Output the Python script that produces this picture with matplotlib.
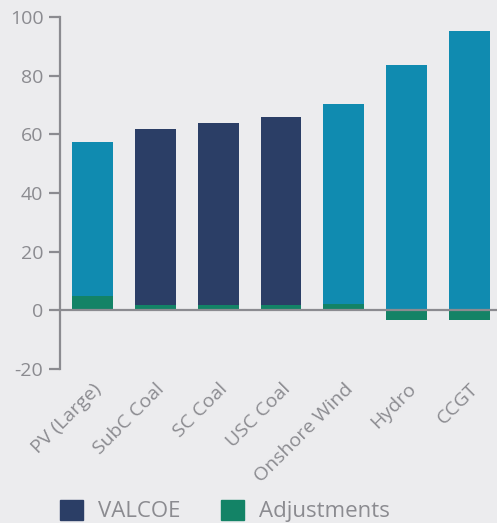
import matplotlib
matplotlib.use("Agg")
import matplotlib.pyplot as plt
import matplotlib.transforms as mtransforms
from matplotlib.patches import Patch
import numpy as np

# Value-adjusted LCOE by technology, USD/MWh
technologies = ["PV (Large)", "SubC Coal", "SC Coal", "USC Coal",
                "Onshore Wind", "Hydro", "CCGT"]
valcoe = [57.5, 61.9, 63.9, 66.0, 70.4, 83.7, 95.2]
adjustments = [4.8, 1.7, 1.7, 1.7, 2.0, -3.3, -3.3]
highlight = [True, False, False, False, True, True, True]
y_ticks = [-20, 0, 20, 40, 60, 80, 100]

BG = "#ececee"
NAVY = "#2b3e66"
CYAN = "#108bb0"
GREEN = "#138366"
GREY = "#8b8b90"

plt.rcParams["font.family"] = ["Open Sans", "DejaVu Sans"]
plt.rcParams["axes.unicode_minus"] = False

fig = plt.figure(figsize=(4.97, 5.23), dpi=100, facecolor=BG)
ax = fig.add_axes([60 / 497, 1 - 369 / 523, 1 - 60 / 497, (369 - 17) / 523])
ax.set_facecolor(BG)

x = np.arange(len(technologies))
adj = np.array(adjustments)
top = np.array(valcoe)
base = np.maximum(adj, 0)
colors = [CYAN if h else NAVY for h in highlight]

ax.bar(x, top - base, bottom=base, width=0.65, color=colors, zorder=2)
ax.bar(x, adj, width=0.65, color=GREEN, zorder=2)
ax.axhline(0, color=GREY, lw=1.6, zorder=3)

ax.set_xlim(-0.52, 6.44)
ax.set_ylim(-20, 100)
ax.set_yticks(y_ticks)
ax.set_xticks(x)
ax.set_xticklabels(technologies, rotation=45, ha="right", va="top",
                   rotation_mode="anchor")
shift = mtransforms.ScaledTranslation(0.06, 0.03, fig.dpi_scale_trans)
for lbl in ax.get_xticklabels():
    lbl.set_transform(lbl.get_transform() + shift)

for s in ["top", "right", "bottom"]:
    ax.spines[s].set_visible(False)
ax.spines["left"].set_color(GREY)
ax.spines["left"].set_linewidth(1.6)
ax.tick_params(axis="y", colors=GREY, labelcolor=GREY, length=8, width=1.6,
               labelsize=14, pad=4)
ax.tick_params(axis="x", length=0, labelcolor=GREY, labelsize=14, pad=8)

handles = [Patch(color=NAVY, label="VALCOE"), Patch(color=GREEN, label="Adjustments")]
fig.legend(handles=handles, loc="center left", bbox_to_anchor=(60 / 497, 1 - 511 / 523),
           ncol=2, frameon=False, fontsize=16, labelcolor=GREY,
           handlelength=1.04, handleheight=1.04, handletextpad=0.68,
           columnspacing=1.8, borderpad=0, borderaxespad=0)

fig.savefig("out.png", dpi=100, facecolor=BG)
